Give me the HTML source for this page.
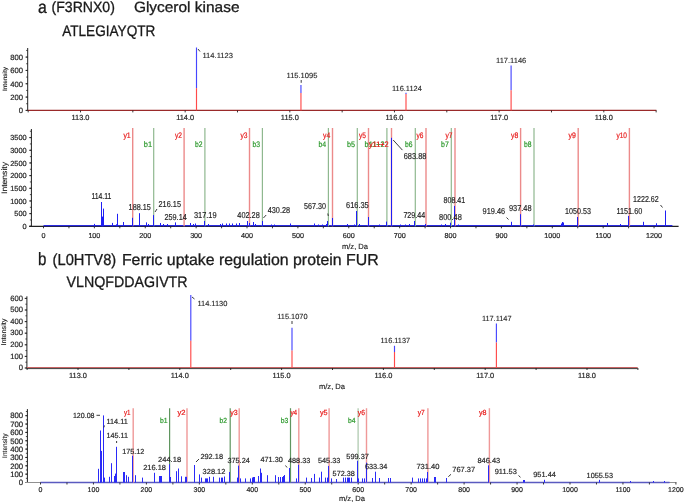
<!DOCTYPE html><html><head><meta charset="utf-8"><style>html,body{margin:0;padding:0;background:#fff;overflow:hidden}svg{display:block;filter:blur(0.3px)}text{font-family:"Liberation Sans",sans-serif;text-rendering:geometricPrecision}</style></head><body>
<svg width="685" height="502" viewBox="0 0 685 502">
<rect width="685" height="502" fill="#fff"/>
<text x="38.00" y="12.60" font-size="17.6" text-anchor="start" fill="#1a1a1a" textLength="8.80" lengthAdjust="spacingAndGlyphs" stroke="#1a1a1a" stroke-width="0.3">a</text>
<text x="51.50" y="12.15" font-size="14.8" text-anchor="start" fill="#1a1a1a" textLength="63.40" lengthAdjust="spacingAndGlyphs" stroke="#1a1a1a" stroke-width="0.3">(F3RNX0)</text>
<text x="133.90" y="12.15" font-size="14.8" text-anchor="start" fill="#1a1a1a" textLength="105.60" lengthAdjust="spacingAndGlyphs" stroke="#1a1a1a" stroke-width="0.3">Glycerol kinase</text>
<text x="62.20" y="36.10" font-size="15.2" text-anchor="start" fill="#1a1a1a" textLength="93.20" lengthAdjust="spacingAndGlyphs" stroke="#1a1a1a" stroke-width="0.3">ATLEGIAYQTR</text>
<text x="37.90" y="265.10" font-size="17.9" text-anchor="start" fill="#1a1a1a" textLength="8.40" lengthAdjust="spacingAndGlyphs" stroke="#1a1a1a" stroke-width="0.3">b</text>
<text x="52.60" y="265.40" font-size="15.9" text-anchor="start" fill="#1a1a1a" textLength="63.60" lengthAdjust="spacingAndGlyphs" stroke="#1a1a1a" stroke-width="0.3">(L0HTV8)</text>
<text x="121.90" y="265.40" font-size="15.9" text-anchor="start" fill="#1a1a1a" textLength="256.70" lengthAdjust="spacingAndGlyphs" stroke="#1a1a1a" stroke-width="0.3">Ferric uptake regulation protein FUR</text>
<text x="66.60" y="287.10" font-size="15.2" text-anchor="start" fill="#1a1a1a" textLength="121.00" lengthAdjust="spacingAndGlyphs" stroke="#1a1a1a" stroke-width="0.3">VLNQFDDAGIVTR</text>
<line x1="27.70" y1="48.00" x2="27.70" y2="110.90" stroke="#202020" stroke-width="1"/>
<line x1="25.50" y1="110.40" x2="27.70" y2="110.40" stroke="#202020" stroke-width="0.9"/>
<line x1="25.50" y1="97.08" x2="27.70" y2="97.08" stroke="#202020" stroke-width="0.9"/>
<line x1="25.50" y1="83.75" x2="27.70" y2="83.75" stroke="#202020" stroke-width="0.9"/>
<line x1="25.50" y1="70.43" x2="27.70" y2="70.43" stroke="#202020" stroke-width="0.9"/>
<line x1="25.50" y1="57.10" x2="27.70" y2="57.10" stroke="#202020" stroke-width="0.9"/>
<line x1="26.20" y1="110.40" x2="27.70" y2="110.40" stroke="#202020" stroke-width="0.8"/>
<line x1="26.20" y1="103.74" x2="27.70" y2="103.74" stroke="#202020" stroke-width="0.8"/>
<line x1="26.20" y1="97.08" x2="27.70" y2="97.08" stroke="#202020" stroke-width="0.8"/>
<line x1="26.20" y1="90.41" x2="27.70" y2="90.41" stroke="#202020" stroke-width="0.8"/>
<line x1="26.20" y1="83.75" x2="27.70" y2="83.75" stroke="#202020" stroke-width="0.8"/>
<line x1="26.20" y1="77.09" x2="27.70" y2="77.09" stroke="#202020" stroke-width="0.8"/>
<line x1="26.20" y1="70.43" x2="27.70" y2="70.43" stroke="#202020" stroke-width="0.8"/>
<line x1="26.20" y1="63.76" x2="27.70" y2="63.76" stroke="#202020" stroke-width="0.8"/>
<line x1="26.20" y1="57.10" x2="27.70" y2="57.10" stroke="#202020" stroke-width="0.8"/>
<line x1="26.20" y1="50.44" x2="27.70" y2="50.44" stroke="#202020" stroke-width="0.8"/>
<text x="23.00" y="113.16" font-size="7.7" text-anchor="end" fill="#262626" stroke="#262626" stroke-width="0.2">0</text>
<text x="23.00" y="99.83" font-size="7.7" text-anchor="end" fill="#262626" stroke="#262626" stroke-width="0.2">200</text>
<text x="23.00" y="86.51" font-size="7.7" text-anchor="end" fill="#262626" stroke="#262626" stroke-width="0.2">400</text>
<text x="23.00" y="73.18" font-size="7.7" text-anchor="end" fill="#262626" stroke="#262626" stroke-width="0.2">600</text>
<text x="23.00" y="59.86" font-size="7.7" text-anchor="end" fill="#262626" stroke="#262626" stroke-width="0.2">800</text>
<line x1="27.70" y1="110.40" x2="656.40" y2="110.40" stroke="#9a2a2a" stroke-width="1.3"/>
<line x1="28.17" y1="110.40" x2="28.17" y2="112.40" stroke="#202020" stroke-width="0.9"/>
<line x1="80.50" y1="110.40" x2="80.50" y2="112.40" stroke="#202020" stroke-width="0.9"/>
<line x1="132.83" y1="110.40" x2="132.83" y2="112.40" stroke="#202020" stroke-width="0.9"/>
<line x1="185.16" y1="110.40" x2="185.16" y2="112.40" stroke="#202020" stroke-width="0.9"/>
<line x1="237.49" y1="110.40" x2="237.49" y2="112.40" stroke="#202020" stroke-width="0.9"/>
<line x1="289.82" y1="110.40" x2="289.82" y2="112.40" stroke="#202020" stroke-width="0.9"/>
<line x1="342.15" y1="110.40" x2="342.15" y2="112.40" stroke="#202020" stroke-width="0.9"/>
<line x1="394.48" y1="110.40" x2="394.48" y2="112.40" stroke="#202020" stroke-width="0.9"/>
<line x1="446.81" y1="110.40" x2="446.81" y2="112.40" stroke="#202020" stroke-width="0.9"/>
<line x1="499.14" y1="110.40" x2="499.14" y2="112.40" stroke="#202020" stroke-width="0.9"/>
<line x1="551.47" y1="110.40" x2="551.47" y2="112.40" stroke="#202020" stroke-width="0.9"/>
<line x1="603.80" y1="110.40" x2="603.80" y2="112.40" stroke="#202020" stroke-width="0.9"/>
<line x1="656.13" y1="110.40" x2="656.13" y2="112.40" stroke="#202020" stroke-width="0.9"/>
<text x="80.50" y="119.50" font-size="7.4" text-anchor="middle" fill="#262626" stroke="#262626" stroke-width="0.2">113.0</text>
<text x="185.16" y="119.50" font-size="7.4" text-anchor="middle" fill="#262626" stroke="#262626" stroke-width="0.2">114.0</text>
<text x="289.82" y="119.50" font-size="7.4" text-anchor="middle" fill="#262626" stroke="#262626" stroke-width="0.2">115.0</text>
<text x="394.48" y="119.50" font-size="7.4" text-anchor="middle" fill="#262626" stroke="#262626" stroke-width="0.2">116.0</text>
<text x="499.14" y="119.50" font-size="7.4" text-anchor="middle" fill="#262626" stroke="#262626" stroke-width="0.2">117.0</text>
<text x="603.80" y="119.50" font-size="7.4" text-anchor="middle" fill="#262626" stroke="#262626" stroke-width="0.2">118.0</text>
<line x1="196.50" y1="47.50" x2="196.50" y2="88.10" stroke="#4646ff" stroke-width="1.15"/>
<line x1="196.50" y1="88.10" x2="196.50" y2="110.40" stroke="#ff4a4a" stroke-width="1.15"/>
<line x1="300.95" y1="85.00" x2="300.95" y2="93.10" stroke="#4646ff" stroke-width="1.15"/>
<line x1="300.95" y1="93.10" x2="300.95" y2="110.40" stroke="#ff4a4a" stroke-width="1.15"/>
<line x1="406.00" y1="92.70" x2="406.00" y2="94.00" stroke="#4646ff" stroke-width="1.15"/>
<line x1="406.00" y1="94.00" x2="406.00" y2="110.40" stroke="#ff4a4a" stroke-width="1.15"/>
<line x1="511.10" y1="65.50" x2="511.10" y2="90.30" stroke="#4646ff" stroke-width="1.15"/>
<line x1="511.10" y1="90.30" x2="511.10" y2="110.40" stroke="#ff4a4a" stroke-width="1.15"/>
<text x="202.40" y="57.65" font-size="7.4" text-anchor="start" fill="#262626" textLength="30.60" lengthAdjust="spacingAndGlyphs" stroke="#262626" stroke-width="0.12">114.1123</text>
<text x="286.50" y="78.15" font-size="7.4" text-anchor="start" fill="#262626" textLength="30.90" lengthAdjust="spacingAndGlyphs" stroke="#262626" stroke-width="0.12">115.1095</text>
<text x="392.00" y="90.95" font-size="7.4" text-anchor="start" fill="#262626" textLength="29.80" lengthAdjust="spacingAndGlyphs" stroke="#262626" stroke-width="0.12">116.1124</text>
<text x="496.00" y="63.15" font-size="7.4" text-anchor="start" fill="#262626" textLength="30.30" lengthAdjust="spacingAndGlyphs" stroke="#262626" stroke-width="0.12">117.1146</text>
<line x1="198.00" y1="49.00" x2="200.00" y2="51.50" stroke="#333" stroke-width="0.95"/>
<line x1="301.20" y1="80.00" x2="301.20" y2="82.80" stroke="#333" stroke-width="0.95"/>
<text x="0" y="0" font-size="6.2" text-anchor="middle" fill="#262626" textLength="24.0" lengthAdjust="spacingAndGlyphs" stroke="#262626" stroke-width="0.15" transform="translate(6.52,79.00) rotate(-90)">Intensity</text>
<line x1="26.90" y1="296.30" x2="26.90" y2="368.50" stroke="#202020" stroke-width="1"/>
<line x1="24.70" y1="368.00" x2="26.90" y2="368.00" stroke="#202020" stroke-width="0.9"/>
<line x1="24.70" y1="356.40" x2="26.90" y2="356.40" stroke="#202020" stroke-width="0.9"/>
<line x1="24.70" y1="344.80" x2="26.90" y2="344.80" stroke="#202020" stroke-width="0.9"/>
<line x1="24.70" y1="333.20" x2="26.90" y2="333.20" stroke="#202020" stroke-width="0.9"/>
<line x1="24.70" y1="321.60" x2="26.90" y2="321.60" stroke="#202020" stroke-width="0.9"/>
<line x1="24.70" y1="310.00" x2="26.90" y2="310.00" stroke="#202020" stroke-width="0.9"/>
<line x1="24.70" y1="298.40" x2="26.90" y2="298.40" stroke="#202020" stroke-width="0.9"/>
<line x1="25.40" y1="368.00" x2="26.90" y2="368.00" stroke="#202020" stroke-width="0.8"/>
<line x1="25.40" y1="362.20" x2="26.90" y2="362.20" stroke="#202020" stroke-width="0.8"/>
<line x1="25.40" y1="356.40" x2="26.90" y2="356.40" stroke="#202020" stroke-width="0.8"/>
<line x1="25.40" y1="350.60" x2="26.90" y2="350.60" stroke="#202020" stroke-width="0.8"/>
<line x1="25.40" y1="344.80" x2="26.90" y2="344.80" stroke="#202020" stroke-width="0.8"/>
<line x1="25.40" y1="339.00" x2="26.90" y2="339.00" stroke="#202020" stroke-width="0.8"/>
<line x1="25.40" y1="333.20" x2="26.90" y2="333.20" stroke="#202020" stroke-width="0.8"/>
<line x1="25.40" y1="327.40" x2="26.90" y2="327.40" stroke="#202020" stroke-width="0.8"/>
<line x1="25.40" y1="321.60" x2="26.90" y2="321.60" stroke="#202020" stroke-width="0.8"/>
<line x1="25.40" y1="315.80" x2="26.90" y2="315.80" stroke="#202020" stroke-width="0.8"/>
<line x1="25.40" y1="310.00" x2="26.90" y2="310.00" stroke="#202020" stroke-width="0.8"/>
<line x1="25.40" y1="304.20" x2="26.90" y2="304.20" stroke="#202020" stroke-width="0.8"/>
<line x1="25.40" y1="298.40" x2="26.90" y2="298.40" stroke="#202020" stroke-width="0.8"/>
<text x="23.00" y="370.22" font-size="7.6" text-anchor="end" fill="#262626" stroke="#262626" stroke-width="0.2">0</text>
<text x="23.00" y="358.62" font-size="7.6" text-anchor="end" fill="#262626" stroke="#262626" stroke-width="0.2">100</text>
<text x="23.00" y="347.02" font-size="7.6" text-anchor="end" fill="#262626" stroke="#262626" stroke-width="0.2">200</text>
<text x="23.00" y="335.42" font-size="7.6" text-anchor="end" fill="#262626" stroke="#262626" stroke-width="0.2">300</text>
<text x="23.00" y="323.82" font-size="7.6" text-anchor="end" fill="#262626" stroke="#262626" stroke-width="0.2">400</text>
<text x="23.00" y="312.22" font-size="7.6" text-anchor="end" fill="#262626" stroke="#262626" stroke-width="0.2">500</text>
<text x="23.00" y="300.62" font-size="7.6" text-anchor="end" fill="#262626" stroke="#262626" stroke-width="0.2">600</text>
<line x1="26.90" y1="368.60" x2="637.70" y2="368.60" stroke="#3a3a3a" stroke-width="1.0"/>
<line x1="26.90" y1="367.50" x2="637.70" y2="367.50" stroke="#c86464" stroke-width="1.1"/>
<line x1="27.10" y1="368.00" x2="27.10" y2="370.00" stroke="#202020" stroke-width="0.9"/>
<line x1="78.00" y1="368.00" x2="78.00" y2="370.00" stroke="#202020" stroke-width="0.9"/>
<line x1="128.90" y1="368.00" x2="128.90" y2="370.00" stroke="#202020" stroke-width="0.9"/>
<line x1="179.80" y1="368.00" x2="179.80" y2="370.00" stroke="#202020" stroke-width="0.9"/>
<line x1="230.70" y1="368.00" x2="230.70" y2="370.00" stroke="#202020" stroke-width="0.9"/>
<line x1="281.60" y1="368.00" x2="281.60" y2="370.00" stroke="#202020" stroke-width="0.9"/>
<line x1="332.50" y1="368.00" x2="332.50" y2="370.00" stroke="#202020" stroke-width="0.9"/>
<line x1="383.40" y1="368.00" x2="383.40" y2="370.00" stroke="#202020" stroke-width="0.9"/>
<line x1="434.30" y1="368.00" x2="434.30" y2="370.00" stroke="#202020" stroke-width="0.9"/>
<line x1="485.20" y1="368.00" x2="485.20" y2="370.00" stroke="#202020" stroke-width="0.9"/>
<line x1="536.10" y1="368.00" x2="536.10" y2="370.00" stroke="#202020" stroke-width="0.9"/>
<line x1="587.00" y1="368.00" x2="587.00" y2="370.00" stroke="#202020" stroke-width="0.9"/>
<line x1="637.90" y1="368.00" x2="637.90" y2="370.00" stroke="#202020" stroke-width="0.9"/>
<text x="78.00" y="378.30" font-size="7.4" text-anchor="middle" fill="#262626" stroke="#262626" stroke-width="0.2">113.0</text>
<text x="179.80" y="378.30" font-size="7.4" text-anchor="middle" fill="#262626" stroke="#262626" stroke-width="0.2">114.0</text>
<text x="281.60" y="378.30" font-size="7.4" text-anchor="middle" fill="#262626" stroke="#262626" stroke-width="0.2">115.0</text>
<text x="383.40" y="378.30" font-size="7.4" text-anchor="middle" fill="#262626" stroke="#262626" stroke-width="0.2">116.0</text>
<text x="485.20" y="378.30" font-size="7.4" text-anchor="middle" fill="#262626" stroke="#262626" stroke-width="0.2">117.0</text>
<text x="587.00" y="378.30" font-size="7.4" text-anchor="middle" fill="#262626" stroke="#262626" stroke-width="0.2">118.0</text>
<line x1="190.80" y1="294.90" x2="190.80" y2="340.80" stroke="#4646ff" stroke-width="1.15"/>
<line x1="190.80" y1="340.80" x2="190.80" y2="368.00" stroke="#ff4a4a" stroke-width="1.15"/>
<line x1="292.00" y1="327.70" x2="292.00" y2="350.50" stroke="#4646ff" stroke-width="1.15"/>
<line x1="292.00" y1="350.50" x2="292.00" y2="368.00" stroke="#ff4a4a" stroke-width="1.15"/>
<line x1="394.50" y1="345.80" x2="394.50" y2="352.00" stroke="#4646ff" stroke-width="1.15"/>
<line x1="394.50" y1="352.00" x2="394.50" y2="368.00" stroke="#ff4a4a" stroke-width="1.15"/>
<line x1="496.40" y1="323.40" x2="496.40" y2="342.50" stroke="#4646ff" stroke-width="1.15"/>
<line x1="496.40" y1="342.50" x2="496.40" y2="368.00" stroke="#ff4a4a" stroke-width="1.15"/>
<text x="197.40" y="306.25" font-size="7.4" text-anchor="start" fill="#262626" textLength="30.00" lengthAdjust="spacingAndGlyphs" stroke="#262626" stroke-width="0.12">114.1130</text>
<text x="277.30" y="318.75" font-size="7.4" text-anchor="start" fill="#262626" textLength="30.20" lengthAdjust="spacingAndGlyphs" stroke="#262626" stroke-width="0.12">115.1070</text>
<text x="380.50" y="343.05" font-size="7.4" text-anchor="start" fill="#262626" textLength="29.60" lengthAdjust="spacingAndGlyphs" stroke="#262626" stroke-width="0.12">116.1137</text>
<text x="481.90" y="320.85" font-size="7.4" text-anchor="start" fill="#262626" textLength="29.60" lengthAdjust="spacingAndGlyphs" stroke="#262626" stroke-width="0.12">117.1147</text>
<line x1="192.00" y1="297.00" x2="194.50" y2="299.00" stroke="#333" stroke-width="0.95"/>
<line x1="292.00" y1="321.00" x2="292.00" y2="324.00" stroke="#333" stroke-width="0.95"/>
<text x="0" y="0" font-size="6.9" text-anchor="middle" fill="#262626" textLength="27.0" lengthAdjust="spacingAndGlyphs" stroke="#262626" stroke-width="0.15" transform="translate(6.07,332.00) rotate(-90)">Intensity</text>
<text x="332.00" y="388.50" font-size="7.6" text-anchor="middle" fill="#262626" stroke="#262626" stroke-width="0.15">m/z, Da</text>
<line x1="31.40" y1="129.00" x2="31.40" y2="226.80" stroke="#202020" stroke-width="1"/>
<line x1="29.20" y1="226.30" x2="31.40" y2="226.30" stroke="#202020" stroke-width="0.9"/>
<line x1="29.20" y1="213.63" x2="31.40" y2="213.63" stroke="#202020" stroke-width="0.9"/>
<line x1="29.20" y1="200.96" x2="31.40" y2="200.96" stroke="#202020" stroke-width="0.9"/>
<line x1="29.20" y1="188.29" x2="31.40" y2="188.29" stroke="#202020" stroke-width="0.9"/>
<line x1="29.20" y1="175.61" x2="31.40" y2="175.61" stroke="#202020" stroke-width="0.9"/>
<line x1="29.20" y1="162.94" x2="31.40" y2="162.94" stroke="#202020" stroke-width="0.9"/>
<line x1="29.20" y1="150.27" x2="31.40" y2="150.27" stroke="#202020" stroke-width="0.9"/>
<line x1="29.20" y1="137.60" x2="31.40" y2="137.60" stroke="#202020" stroke-width="0.9"/>
<line x1="29.90" y1="226.30" x2="31.40" y2="226.30" stroke="#202020" stroke-width="0.8"/>
<line x1="29.90" y1="219.96" x2="31.40" y2="219.96" stroke="#202020" stroke-width="0.8"/>
<line x1="29.90" y1="213.63" x2="31.40" y2="213.63" stroke="#202020" stroke-width="0.8"/>
<line x1="29.90" y1="207.29" x2="31.40" y2="207.29" stroke="#202020" stroke-width="0.8"/>
<line x1="29.90" y1="200.96" x2="31.40" y2="200.96" stroke="#202020" stroke-width="0.8"/>
<line x1="29.90" y1="194.62" x2="31.40" y2="194.62" stroke="#202020" stroke-width="0.8"/>
<line x1="29.90" y1="188.29" x2="31.40" y2="188.29" stroke="#202020" stroke-width="0.8"/>
<line x1="29.90" y1="181.95" x2="31.40" y2="181.95" stroke="#202020" stroke-width="0.8"/>
<line x1="29.90" y1="175.61" x2="31.40" y2="175.61" stroke="#202020" stroke-width="0.8"/>
<line x1="29.90" y1="169.28" x2="31.40" y2="169.28" stroke="#202020" stroke-width="0.8"/>
<line x1="29.90" y1="162.94" x2="31.40" y2="162.94" stroke="#202020" stroke-width="0.8"/>
<line x1="29.90" y1="156.61" x2="31.40" y2="156.61" stroke="#202020" stroke-width="0.8"/>
<line x1="29.90" y1="150.27" x2="31.40" y2="150.27" stroke="#202020" stroke-width="0.8"/>
<line x1="29.90" y1="143.94" x2="31.40" y2="143.94" stroke="#202020" stroke-width="0.8"/>
<line x1="29.90" y1="137.60" x2="31.40" y2="137.60" stroke="#202020" stroke-width="0.8"/>
<line x1="29.90" y1="131.26" x2="31.40" y2="131.26" stroke="#202020" stroke-width="0.8"/>
<text x="26.70" y="228.95" font-size="7.4" text-anchor="end" fill="#262626" stroke="#262626" stroke-width="0.2">0</text>
<text x="26.70" y="216.28" font-size="7.4" text-anchor="end" fill="#262626" stroke="#262626" stroke-width="0.2">500</text>
<text x="26.70" y="203.61" font-size="7.4" text-anchor="end" fill="#262626" stroke="#262626" stroke-width="0.2">1000</text>
<text x="26.70" y="190.93" font-size="7.4" text-anchor="end" fill="#262626" stroke="#262626" stroke-width="0.2">1500</text>
<text x="26.70" y="178.26" font-size="7.4" text-anchor="end" fill="#262626" stroke="#262626" stroke-width="0.2">2000</text>
<text x="26.70" y="165.59" font-size="7.4" text-anchor="end" fill="#262626" stroke="#262626" stroke-width="0.2">2500</text>
<text x="26.70" y="152.92" font-size="7.4" text-anchor="end" fill="#262626" stroke="#262626" stroke-width="0.2">3000</text>
<text x="26.70" y="140.25" font-size="7.4" text-anchor="end" fill="#262626" stroke="#262626" stroke-width="0.2">3500</text>
<line x1="29.20" y1="226.30" x2="678.60" y2="226.30" stroke="#202020" stroke-width="1.2"/>
<line x1="43.50" y1="225.70" x2="672.40" y2="225.70" stroke="#2a2ae0" stroke-width="1.3"/>
<line x1="43.50" y1="226.30" x2="43.50" y2="228.30" stroke="#202020" stroke-width="0.9"/>
<line x1="68.94" y1="226.30" x2="68.94" y2="228.30" stroke="#202020" stroke-width="0.9"/>
<line x1="94.38" y1="226.30" x2="94.38" y2="228.30" stroke="#202020" stroke-width="0.9"/>
<line x1="119.82" y1="226.30" x2="119.82" y2="228.30" stroke="#202020" stroke-width="0.9"/>
<line x1="145.26" y1="226.30" x2="145.26" y2="228.30" stroke="#202020" stroke-width="0.9"/>
<line x1="170.70" y1="226.30" x2="170.70" y2="228.30" stroke="#202020" stroke-width="0.9"/>
<line x1="196.14" y1="226.30" x2="196.14" y2="228.30" stroke="#202020" stroke-width="0.9"/>
<line x1="221.58" y1="226.30" x2="221.58" y2="228.30" stroke="#202020" stroke-width="0.9"/>
<line x1="247.02" y1="226.30" x2="247.02" y2="228.30" stroke="#202020" stroke-width="0.9"/>
<line x1="272.46" y1="226.30" x2="272.46" y2="228.30" stroke="#202020" stroke-width="0.9"/>
<line x1="297.90" y1="226.30" x2="297.90" y2="228.30" stroke="#202020" stroke-width="0.9"/>
<line x1="323.34" y1="226.30" x2="323.34" y2="228.30" stroke="#202020" stroke-width="0.9"/>
<line x1="348.78" y1="226.30" x2="348.78" y2="228.30" stroke="#202020" stroke-width="0.9"/>
<line x1="374.22" y1="226.30" x2="374.22" y2="228.30" stroke="#202020" stroke-width="0.9"/>
<line x1="399.66" y1="226.30" x2="399.66" y2="228.30" stroke="#202020" stroke-width="0.9"/>
<line x1="425.10" y1="226.30" x2="425.10" y2="228.30" stroke="#202020" stroke-width="0.9"/>
<line x1="450.54" y1="226.30" x2="450.54" y2="228.30" stroke="#202020" stroke-width="0.9"/>
<line x1="475.98" y1="226.30" x2="475.98" y2="228.30" stroke="#202020" stroke-width="0.9"/>
<line x1="501.42" y1="226.30" x2="501.42" y2="228.30" stroke="#202020" stroke-width="0.9"/>
<line x1="526.86" y1="226.30" x2="526.86" y2="228.30" stroke="#202020" stroke-width="0.9"/>
<line x1="552.30" y1="226.30" x2="552.30" y2="228.30" stroke="#202020" stroke-width="0.9"/>
<line x1="577.74" y1="226.30" x2="577.74" y2="228.30" stroke="#202020" stroke-width="0.9"/>
<line x1="603.18" y1="226.30" x2="603.18" y2="228.30" stroke="#202020" stroke-width="0.9"/>
<line x1="628.62" y1="226.30" x2="628.62" y2="228.30" stroke="#202020" stroke-width="0.9"/>
<line x1="654.06" y1="226.30" x2="654.06" y2="228.30" stroke="#202020" stroke-width="0.9"/>
<text x="43.50" y="238.00" font-size="7.2" text-anchor="middle" fill="#262626" stroke="#262626" stroke-width="0.2">0</text>
<text x="94.38" y="238.00" font-size="7.2" text-anchor="middle" fill="#262626" stroke="#262626" stroke-width="0.2">100</text>
<text x="145.26" y="238.00" font-size="7.2" text-anchor="middle" fill="#262626" stroke="#262626" stroke-width="0.2">200</text>
<text x="196.14" y="238.00" font-size="7.2" text-anchor="middle" fill="#262626" stroke="#262626" stroke-width="0.2">300</text>
<text x="247.02" y="238.00" font-size="7.2" text-anchor="middle" fill="#262626" stroke="#262626" stroke-width="0.2">400</text>
<text x="297.90" y="238.00" font-size="7.2" text-anchor="middle" fill="#262626" stroke="#262626" stroke-width="0.2">500</text>
<text x="348.78" y="238.00" font-size="7.2" text-anchor="middle" fill="#262626" stroke="#262626" stroke-width="0.2">600</text>
<text x="399.66" y="238.00" font-size="7.2" text-anchor="middle" fill="#262626" stroke="#262626" stroke-width="0.2">700</text>
<text x="450.54" y="238.00" font-size="7.2" text-anchor="middle" fill="#262626" stroke="#262626" stroke-width="0.2">800</text>
<text x="501.42" y="238.00" font-size="7.2" text-anchor="middle" fill="#262626" stroke="#262626" stroke-width="0.2">900</text>
<text x="552.30" y="238.00" font-size="7.2" text-anchor="middle" fill="#262626" stroke="#262626" stroke-width="0.2">1000</text>
<text x="603.18" y="238.00" font-size="7.2" text-anchor="middle" fill="#262626" stroke="#262626" stroke-width="0.2">1100</text>
<text x="654.06" y="238.00" font-size="7.2" text-anchor="middle" fill="#262626" stroke="#262626" stroke-width="0.2">1200</text>
<line x1="132.70" y1="128.00" x2="132.70" y2="226.30" stroke="#ec8a8a" stroke-width="1.4"/>
<line x1="153.70" y1="128.00" x2="153.70" y2="226.30" stroke="#8fb88f" stroke-width="1.2"/>
<line x1="184.10" y1="128.00" x2="184.10" y2="226.30" stroke="#ec8a8a" stroke-width="1.4"/>
<line x1="204.90" y1="128.00" x2="204.90" y2="226.30" stroke="#8fb88f" stroke-width="1.2"/>
<line x1="249.50" y1="128.00" x2="249.50" y2="226.30" stroke="#ec8a8a" stroke-width="1.4"/>
<line x1="262.40" y1="128.00" x2="262.40" y2="226.30" stroke="#8fb88f" stroke-width="1.2"/>
<line x1="332.50" y1="128.00" x2="332.50" y2="226.30" stroke="#ec8a8a" stroke-width="1.4"/>
<line x1="328.40" y1="128.00" x2="328.40" y2="226.30" stroke="#8fb88f" stroke-width="1.2"/>
<line x1="368.50" y1="128.00" x2="368.50" y2="226.30" stroke="#ec8a8a" stroke-width="1.4"/>
<line x1="357.30" y1="128.00" x2="357.30" y2="226.30" stroke="#8fb88f" stroke-width="1.2"/>
<line x1="391.50" y1="128.00" x2="391.50" y2="226.30" stroke="#ec8a8a" stroke-width="1.4"/>
<line x1="386.90" y1="128.00" x2="386.90" y2="226.30" stroke="#8fb88f" stroke-width="1.2"/>
<line x1="426.00" y1="128.00" x2="426.00" y2="226.30" stroke="#ec8a8a" stroke-width="1.4"/>
<line x1="415.30" y1="128.00" x2="415.30" y2="226.30" stroke="#8fb88f" stroke-width="1.2"/>
<line x1="455.00" y1="128.00" x2="455.00" y2="226.30" stroke="#ec8a8a" stroke-width="1.4"/>
<line x1="451.30" y1="128.00" x2="451.30" y2="226.30" stroke="#8fb88f" stroke-width="1.2"/>
<line x1="520.60" y1="128.00" x2="520.60" y2="226.30" stroke="#ec8a8a" stroke-width="1.4"/>
<line x1="534.00" y1="128.00" x2="534.00" y2="226.30" stroke="#8fb88f" stroke-width="1.2"/>
<line x1="578.20" y1="128.00" x2="578.20" y2="226.30" stroke="#ec8a8a" stroke-width="1.4"/>
<line x1="629.40" y1="128.00" x2="629.40" y2="226.30" stroke="#ec8a8a" stroke-width="1.4"/>
<text x="143.80" y="147.06" font-size="8.0" text-anchor="start" fill="#2e9a2e" textLength="8.30" lengthAdjust="spacingAndGlyphs" stroke="#2e9a2e" stroke-width="0.22">b1</text>
<text x="195.00" y="147.06" font-size="8.0" text-anchor="start" fill="#2e9a2e" textLength="7.50" lengthAdjust="spacingAndGlyphs" stroke="#2e9a2e" stroke-width="0.22">b2</text>
<text x="252.50" y="147.06" font-size="8.0" text-anchor="start" fill="#2e9a2e" textLength="7.50" lengthAdjust="spacingAndGlyphs" stroke="#2e9a2e" stroke-width="0.22">b3</text>
<text x="318.50" y="147.06" font-size="8.0" text-anchor="start" fill="#2e9a2e" textLength="7.70" lengthAdjust="spacingAndGlyphs" stroke="#2e9a2e" stroke-width="0.22">b4</text>
<text x="347.00" y="147.06" font-size="8.0" text-anchor="start" fill="#2e9a2e" textLength="8.00" lengthAdjust="spacingAndGlyphs" stroke="#2e9a2e" stroke-width="0.22">b5</text>
<text x="364.60" y="147.06" font-size="8.0" text-anchor="start" fill="#2e9a2e" textLength="19.90" lengthAdjust="spacingAndGlyphs" stroke="#2e9a2e" stroke-width="0.22">b11+2</text>
<text x="405.00" y="147.06" font-size="8.0" text-anchor="start" fill="#2e9a2e" textLength="7.50" lengthAdjust="spacingAndGlyphs" stroke="#2e9a2e" stroke-width="0.22">b6</text>
<text x="441.00" y="147.06" font-size="8.0" text-anchor="start" fill="#2e9a2e" textLength="7.80" lengthAdjust="spacingAndGlyphs" stroke="#2e9a2e" stroke-width="0.22">b7</text>
<text x="524.00" y="147.06" font-size="8.0" text-anchor="start" fill="#2e9a2e" textLength="7.50" lengthAdjust="spacingAndGlyphs" stroke="#2e9a2e" stroke-width="0.22">b8</text>
<text x="123.40" y="138.26" font-size="8.0" text-anchor="start" fill="#e82020" textLength="7.30" lengthAdjust="spacingAndGlyphs" stroke="#e82020" stroke-width="0.22">y1</text>
<text x="175.00" y="138.26" font-size="8.0" text-anchor="start" fill="#e82020" textLength="7.00" lengthAdjust="spacingAndGlyphs" stroke="#e82020" stroke-width="0.22">y2</text>
<text x="240.50" y="138.26" font-size="8.0" text-anchor="start" fill="#e82020" textLength="7.00" lengthAdjust="spacingAndGlyphs" stroke="#e82020" stroke-width="0.22">y3</text>
<text x="323.00" y="138.26" font-size="8.0" text-anchor="start" fill="#e82020" textLength="7.20" lengthAdjust="spacingAndGlyphs" stroke="#e82020" stroke-width="0.22">y4</text>
<text x="359.00" y="138.26" font-size="8.0" text-anchor="start" fill="#e82020" textLength="7.00" lengthAdjust="spacingAndGlyphs" stroke="#e82020" stroke-width="0.22">y5</text>
<text x="369.00" y="147.06" font-size="8.0" text-anchor="start" fill="#e82020" textLength="19.70" lengthAdjust="spacingAndGlyphs" stroke="#e82020" stroke-width="0.22">y11+2</text>
<text x="416.50" y="138.26" font-size="8.0" text-anchor="start" fill="#e82020" textLength="6.90" lengthAdjust="spacingAndGlyphs" stroke="#e82020" stroke-width="0.22">y6</text>
<text x="445.50" y="138.26" font-size="8.0" text-anchor="start" fill="#e82020" textLength="7.00" lengthAdjust="spacingAndGlyphs" stroke="#e82020" stroke-width="0.22">y7</text>
<text x="511.00" y="138.26" font-size="8.0" text-anchor="start" fill="#e82020" textLength="7.20" lengthAdjust="spacingAndGlyphs" stroke="#e82020" stroke-width="0.22">y8</text>
<text x="568.50" y="138.26" font-size="8.0" text-anchor="start" fill="#e82020" textLength="7.30" lengthAdjust="spacingAndGlyphs" stroke="#e82020" stroke-width="0.22">y9</text>
<text x="616.50" y="138.26" font-size="8.0" text-anchor="start" fill="#e82020" textLength="10.50" lengthAdjust="spacingAndGlyphs" stroke="#e82020" stroke-width="0.22">y10</text>
<line x1="94.50" y1="223.90" x2="94.50" y2="226.30" stroke="#1f1ff5" stroke-width="1.0"/>
<line x1="101.50" y1="202.00" x2="101.50" y2="226.30" stroke="#1f1ff5" stroke-width="1.0"/>
<line x1="102.50" y1="216.60" x2="102.50" y2="226.30" stroke="#1f1ff5" stroke-width="1.0"/>
<line x1="102.50" y1="218.00" x2="102.50" y2="226.30" stroke="#1f1ff5" stroke-width="1.0"/>
<line x1="103.50" y1="208.60" x2="103.50" y2="226.30" stroke="#1f1ff5" stroke-width="1.0"/>
<line x1="112.50" y1="222.90" x2="112.50" y2="226.30" stroke="#1f1ff5" stroke-width="1.0"/>
<line x1="116.50" y1="224.30" x2="116.50" y2="226.30" stroke="#1f1ff5" stroke-width="1.0"/>
<line x1="117.50" y1="213.80" x2="117.50" y2="226.30" stroke="#1f1ff5" stroke-width="1.0"/>
<line x1="123.50" y1="222.00" x2="123.50" y2="226.30" stroke="#1f1ff5" stroke-width="1.0"/>
<line x1="132.50" y1="217.80" x2="132.50" y2="226.30" stroke="#1f1ff5" stroke-width="1.0"/>
<line x1="139.50" y1="213.20" x2="139.50" y2="226.30" stroke="#1f1ff5" stroke-width="1.0"/>
<line x1="146.50" y1="222.40" x2="146.50" y2="226.30" stroke="#1f1ff5" stroke-width="1.0"/>
<line x1="148.50" y1="224.00" x2="148.50" y2="226.30" stroke="#1f1ff5" stroke-width="1.0"/>
<line x1="153.50" y1="215.10" x2="153.50" y2="226.30" stroke="#1f1ff5" stroke-width="1.0"/>
<line x1="160.50" y1="223.00" x2="160.50" y2="226.30" stroke="#1f1ff5" stroke-width="1.0"/>
<line x1="163.50" y1="224.00" x2="163.50" y2="226.30" stroke="#1f1ff5" stroke-width="1.0"/>
<line x1="167.50" y1="224.00" x2="167.50" y2="226.30" stroke="#1f1ff5" stroke-width="1.0"/>
<line x1="175.50" y1="222.40" x2="175.50" y2="226.30" stroke="#1f1ff5" stroke-width="1.0"/>
<line x1="190.50" y1="223.00" x2="190.50" y2="226.30" stroke="#1f1ff5" stroke-width="1.0"/>
<line x1="193.50" y1="224.00" x2="193.50" y2="226.30" stroke="#1f1ff5" stroke-width="1.0"/>
<line x1="195.50" y1="223.50" x2="195.50" y2="226.30" stroke="#1f1ff5" stroke-width="1.0"/>
<line x1="204.50" y1="221.00" x2="204.50" y2="226.30" stroke="#1f1ff5" stroke-width="1.0"/>
<line x1="208.50" y1="224.00" x2="208.50" y2="226.30" stroke="#1f1ff5" stroke-width="1.0"/>
<line x1="220.50" y1="224.00" x2="220.50" y2="226.30" stroke="#1f1ff5" stroke-width="1.0"/>
<line x1="222.50" y1="223.50" x2="222.50" y2="226.30" stroke="#1f1ff5" stroke-width="1.0"/>
<line x1="226.50" y1="223.50" x2="226.50" y2="226.30" stroke="#1f1ff5" stroke-width="1.0"/>
<line x1="229.50" y1="223.50" x2="229.50" y2="226.30" stroke="#1f1ff5" stroke-width="1.0"/>
<line x1="232.50" y1="223.50" x2="232.50" y2="226.30" stroke="#1f1ff5" stroke-width="1.0"/>
<line x1="236.50" y1="223.50" x2="236.50" y2="226.30" stroke="#1f1ff5" stroke-width="1.0"/>
<line x1="239.50" y1="223.00" x2="239.50" y2="226.30" stroke="#1f1ff5" stroke-width="1.0"/>
<line x1="247.50" y1="221.00" x2="247.50" y2="226.30" stroke="#1f1ff5" stroke-width="1.0"/>
<line x1="249.50" y1="223.00" x2="249.50" y2="226.30" stroke="#1f1ff5" stroke-width="1.0"/>
<line x1="253.50" y1="222.00" x2="253.50" y2="226.30" stroke="#1f1ff5" stroke-width="1.0"/>
<line x1="255.50" y1="224.00" x2="255.50" y2="226.30" stroke="#1f1ff5" stroke-width="1.0"/>
<line x1="262.50" y1="221.00" x2="262.50" y2="226.30" stroke="#1f1ff5" stroke-width="1.0"/>
<line x1="271.50" y1="224.50" x2="271.50" y2="226.30" stroke="#1f1ff5" stroke-width="1.0"/>
<line x1="274.50" y1="224.50" x2="274.50" y2="226.30" stroke="#1f1ff5" stroke-width="1.0"/>
<line x1="290.50" y1="223.50" x2="290.50" y2="226.30" stroke="#1f1ff5" stroke-width="1.0"/>
<line x1="314.50" y1="223.50" x2="314.50" y2="226.30" stroke="#1f1ff5" stroke-width="1.0"/>
<line x1="318.50" y1="224.50" x2="318.50" y2="226.30" stroke="#1f1ff5" stroke-width="1.0"/>
<line x1="322.50" y1="224.50" x2="322.50" y2="226.30" stroke="#1f1ff5" stroke-width="1.0"/>
<line x1="326.50" y1="224.00" x2="326.50" y2="226.30" stroke="#1f1ff5" stroke-width="1.0"/>
<line x1="327.50" y1="221.00" x2="327.50" y2="226.30" stroke="#1f1ff5" stroke-width="1.0"/>
<line x1="332.50" y1="218.00" x2="332.50" y2="226.30" stroke="#1f1ff5" stroke-width="1.0"/>
<line x1="347.50" y1="224.00" x2="347.50" y2="226.30" stroke="#1f1ff5" stroke-width="1.0"/>
<line x1="354.50" y1="224.50" x2="354.50" y2="226.30" stroke="#1f1ff5" stroke-width="1.0"/>
<line x1="356.50" y1="211.00" x2="356.50" y2="226.30" stroke="#1f1ff5" stroke-width="1.0"/>
<line x1="359.50" y1="224.00" x2="359.50" y2="226.30" stroke="#1f1ff5" stroke-width="1.0"/>
<line x1="368.50" y1="217.00" x2="368.50" y2="226.30" stroke="#1f1ff5" stroke-width="1.0"/>
<line x1="379.50" y1="224.50" x2="379.50" y2="226.30" stroke="#1f1ff5" stroke-width="1.0"/>
<line x1="386.50" y1="221.60" x2="386.50" y2="226.30" stroke="#1f1ff5" stroke-width="1.0"/>
<line x1="391.50" y1="137.80" x2="391.50" y2="226.30" stroke="#1f1ff5" stroke-width="1.0"/>
<line x1="400.50" y1="224.50" x2="400.50" y2="226.30" stroke="#1f1ff5" stroke-width="1.0"/>
<line x1="405.50" y1="224.50" x2="405.50" y2="226.30" stroke="#1f1ff5" stroke-width="1.0"/>
<line x1="409.50" y1="224.00" x2="409.50" y2="226.30" stroke="#1f1ff5" stroke-width="1.0"/>
<line x1="414.50" y1="221.00" x2="414.50" y2="226.30" stroke="#1f1ff5" stroke-width="1.0"/>
<line x1="425.50" y1="224.00" x2="425.50" y2="226.30" stroke="#1f1ff5" stroke-width="1.0"/>
<line x1="441.50" y1="224.50" x2="441.50" y2="226.30" stroke="#1f1ff5" stroke-width="1.0"/>
<line x1="445.50" y1="224.00" x2="445.50" y2="226.30" stroke="#1f1ff5" stroke-width="1.0"/>
<line x1="450.50" y1="222.70" x2="450.50" y2="226.30" stroke="#1f1ff5" stroke-width="1.0"/>
<line x1="454.50" y1="205.90" x2="454.50" y2="226.30" stroke="#1f1ff5" stroke-width="1.0"/>
<line x1="458.50" y1="224.50" x2="458.50" y2="226.30" stroke="#1f1ff5" stroke-width="1.0"/>
<line x1="511.50" y1="221.80" x2="511.50" y2="226.30" stroke="#1f1ff5" stroke-width="1.0"/>
<line x1="520.50" y1="214.20" x2="520.50" y2="226.30" stroke="#1f1ff5" stroke-width="1.0"/>
<line x1="533.50" y1="224.50" x2="533.50" y2="226.30" stroke="#1f1ff5" stroke-width="1.0"/>
<line x1="561.50" y1="223.50" x2="561.50" y2="226.30" stroke="#1f1ff5" stroke-width="1.0"/>
<line x1="562.50" y1="222.00" x2="562.50" y2="226.30" stroke="#1f1ff5" stroke-width="1.0"/>
<line x1="563.50" y1="222.50" x2="563.50" y2="226.30" stroke="#1f1ff5" stroke-width="1.0"/>
<line x1="577.50" y1="217.00" x2="577.50" y2="226.30" stroke="#1f1ff5" stroke-width="1.0"/>
<line x1="607.50" y1="223.00" x2="607.50" y2="226.30" stroke="#1f1ff5" stroke-width="1.0"/>
<line x1="620.50" y1="224.00" x2="620.50" y2="226.30" stroke="#1f1ff5" stroke-width="1.0"/>
<line x1="628.50" y1="215.90" x2="628.50" y2="226.30" stroke="#1f1ff5" stroke-width="1.0"/>
<line x1="643.50" y1="221.80" x2="643.50" y2="226.30" stroke="#1f1ff5" stroke-width="1.0"/>
<line x1="656.50" y1="223.30" x2="656.50" y2="226.30" stroke="#1f1ff5" stroke-width="1.0"/>
<line x1="665.50" y1="210.50" x2="665.50" y2="226.30" stroke="#1f1ff5" stroke-width="1.0"/>
<text x="91.40" y="199.28" font-size="8.6" text-anchor="start" fill="#262626" textLength="20.00" lengthAdjust="spacingAndGlyphs" stroke="#262626" stroke-width="0.18">114.11</text>
<text x="128.60" y="209.88" font-size="8.6" text-anchor="start" fill="#262626" textLength="22.20" lengthAdjust="spacingAndGlyphs" stroke="#262626" stroke-width="0.18">188.15</text>
<text x="158.50" y="207.28" font-size="8.6" text-anchor="start" fill="#262626" textLength="22.50" lengthAdjust="spacingAndGlyphs" stroke="#262626" stroke-width="0.18">216.15</text>
<text x="164.40" y="220.28" font-size="8.6" text-anchor="start" fill="#262626" textLength="22.40" lengthAdjust="spacingAndGlyphs" stroke="#262626" stroke-width="0.18">259.14</text>
<text x="193.90" y="217.88" font-size="8.6" text-anchor="start" fill="#262626" textLength="22.70" lengthAdjust="spacingAndGlyphs" stroke="#262626" stroke-width="0.18">317.19</text>
<text x="237.30" y="217.88" font-size="8.6" text-anchor="start" fill="#262626" textLength="22.50" lengthAdjust="spacingAndGlyphs" stroke="#262626" stroke-width="0.18">402.28</text>
<text x="267.70" y="212.78" font-size="8.6" text-anchor="start" fill="#262626" textLength="22.40" lengthAdjust="spacingAndGlyphs" stroke="#262626" stroke-width="0.18">430.28</text>
<text x="304.00" y="209.38" font-size="8.6" text-anchor="start" fill="#262626" textLength="21.90" lengthAdjust="spacingAndGlyphs" stroke="#262626" stroke-width="0.18">567.30</text>
<text x="346.00" y="207.88" font-size="8.6" text-anchor="start" fill="#262626" textLength="22.75" lengthAdjust="spacingAndGlyphs" stroke="#262626" stroke-width="0.18">616.35</text>
<text x="403.70" y="158.68" font-size="8.6" text-anchor="start" fill="#262626" textLength="22.70" lengthAdjust="spacingAndGlyphs" stroke="#262626" stroke-width="0.18">683.88</text>
<text x="403.40" y="218.38" font-size="8.6" text-anchor="start" fill="#262626" textLength="21.80" lengthAdjust="spacingAndGlyphs" stroke="#262626" stroke-width="0.18">729.44</text>
<text x="443.60" y="202.88" font-size="8.6" text-anchor="start" fill="#262626" textLength="21.60" lengthAdjust="spacingAndGlyphs" stroke="#262626" stroke-width="0.18">808.41</text>
<text x="439.10" y="219.88" font-size="8.6" text-anchor="start" fill="#262626" textLength="22.70" lengthAdjust="spacingAndGlyphs" stroke="#262626" stroke-width="0.18">800.48</text>
<text x="482.60" y="214.18" font-size="8.6" text-anchor="start" fill="#262626" textLength="22.60" lengthAdjust="spacingAndGlyphs" stroke="#262626" stroke-width="0.18">919.46</text>
<text x="508.90" y="211.08" font-size="8.6" text-anchor="start" fill="#262626" textLength="22.70" lengthAdjust="spacingAndGlyphs" stroke="#262626" stroke-width="0.18">937.48</text>
<text x="565.10" y="214.18" font-size="8.6" text-anchor="start" fill="#262626" textLength="25.80" lengthAdjust="spacingAndGlyphs" stroke="#262626" stroke-width="0.18">1050.53</text>
<text x="616.40" y="213.58" font-size="8.6" text-anchor="start" fill="#262626" textLength="25.90" lengthAdjust="spacingAndGlyphs" stroke="#262626" stroke-width="0.18">1151.60</text>
<text x="633.00" y="202.18" font-size="8.6" text-anchor="start" fill="#262626" textLength="25.75" lengthAdjust="spacingAndGlyphs" stroke="#262626" stroke-width="0.18">1222.62</text>
<line x1="155.00" y1="212.00" x2="157.00" y2="209.00" stroke="#333" stroke-width="0.95"/>
<line x1="263.40" y1="218.00" x2="266.20" y2="215.00" stroke="#333" stroke-width="0.95"/>
<line x1="327.80" y1="213.50" x2="328.30" y2="216.00" stroke="#333" stroke-width="0.95"/>
<line x1="393.20" y1="140.00" x2="402.40" y2="150.10" stroke="#333" stroke-width="0.95"/>
<line x1="506.50" y1="217.50" x2="508.50" y2="219.50" stroke="#333" stroke-width="0.95"/>
<line x1="660.50" y1="205.00" x2="662.50" y2="207.50" stroke="#333" stroke-width="0.95"/>
<text x="0" y="0" font-size="7.8" text-anchor="middle" fill="#262626" textLength="32.0" lengthAdjust="spacingAndGlyphs" stroke="#262626" stroke-width="0.15" transform="translate(7.39,178.00) rotate(-90)">Intensity</text>
<text x="355.00" y="249.00" font-size="7.6" text-anchor="middle" fill="#262626" stroke="#262626" stroke-width="0.15">m/z, Da</text>
<line x1="27.40" y1="409.10" x2="27.40" y2="483.00" stroke="#202020" stroke-width="1"/>
<line x1="25.20" y1="482.50" x2="27.40" y2="482.50" stroke="#202020" stroke-width="0.9"/>
<line x1="25.20" y1="474.15" x2="27.40" y2="474.15" stroke="#202020" stroke-width="0.9"/>
<line x1="25.20" y1="465.80" x2="27.40" y2="465.80" stroke="#202020" stroke-width="0.9"/>
<line x1="25.20" y1="457.45" x2="27.40" y2="457.45" stroke="#202020" stroke-width="0.9"/>
<line x1="25.20" y1="449.10" x2="27.40" y2="449.10" stroke="#202020" stroke-width="0.9"/>
<line x1="25.20" y1="440.75" x2="27.40" y2="440.75" stroke="#202020" stroke-width="0.9"/>
<line x1="25.20" y1="432.40" x2="27.40" y2="432.40" stroke="#202020" stroke-width="0.9"/>
<line x1="25.20" y1="424.05" x2="27.40" y2="424.05" stroke="#202020" stroke-width="0.9"/>
<line x1="25.20" y1="415.70" x2="27.40" y2="415.70" stroke="#202020" stroke-width="0.9"/>
<line x1="25.90" y1="482.50" x2="27.40" y2="482.50" stroke="#202020" stroke-width="0.8"/>
<line x1="25.90" y1="478.32" x2="27.40" y2="478.32" stroke="#202020" stroke-width="0.8"/>
<line x1="25.90" y1="474.15" x2="27.40" y2="474.15" stroke="#202020" stroke-width="0.8"/>
<line x1="25.90" y1="469.98" x2="27.40" y2="469.98" stroke="#202020" stroke-width="0.8"/>
<line x1="25.90" y1="465.80" x2="27.40" y2="465.80" stroke="#202020" stroke-width="0.8"/>
<line x1="25.90" y1="461.62" x2="27.40" y2="461.62" stroke="#202020" stroke-width="0.8"/>
<line x1="25.90" y1="457.45" x2="27.40" y2="457.45" stroke="#202020" stroke-width="0.8"/>
<line x1="25.90" y1="453.27" x2="27.40" y2="453.27" stroke="#202020" stroke-width="0.8"/>
<line x1="25.90" y1="449.10" x2="27.40" y2="449.10" stroke="#202020" stroke-width="0.8"/>
<line x1="25.90" y1="444.93" x2="27.40" y2="444.93" stroke="#202020" stroke-width="0.8"/>
<line x1="25.90" y1="440.75" x2="27.40" y2="440.75" stroke="#202020" stroke-width="0.8"/>
<line x1="25.90" y1="436.57" x2="27.40" y2="436.57" stroke="#202020" stroke-width="0.8"/>
<line x1="25.90" y1="432.40" x2="27.40" y2="432.40" stroke="#202020" stroke-width="0.8"/>
<line x1="25.90" y1="428.23" x2="27.40" y2="428.23" stroke="#202020" stroke-width="0.8"/>
<line x1="25.90" y1="424.05" x2="27.40" y2="424.05" stroke="#202020" stroke-width="0.8"/>
<line x1="25.90" y1="419.88" x2="27.40" y2="419.88" stroke="#202020" stroke-width="0.8"/>
<line x1="25.90" y1="415.70" x2="27.40" y2="415.70" stroke="#202020" stroke-width="0.8"/>
<line x1="25.90" y1="411.52" x2="27.40" y2="411.52" stroke="#202020" stroke-width="0.8"/>
<text x="23.20" y="485.29" font-size="7.8" text-anchor="end" fill="#262626" stroke="#262626" stroke-width="0.2">0</text>
<text x="23.20" y="476.94" font-size="7.8" text-anchor="end" fill="#262626" stroke="#262626" stroke-width="0.2">100</text>
<text x="23.20" y="468.59" font-size="7.8" text-anchor="end" fill="#262626" stroke="#262626" stroke-width="0.2">200</text>
<text x="23.20" y="460.24" font-size="7.8" text-anchor="end" fill="#262626" stroke="#262626" stroke-width="0.2">300</text>
<text x="23.20" y="451.89" font-size="7.8" text-anchor="end" fill="#262626" stroke="#262626" stroke-width="0.2">400</text>
<text x="23.20" y="443.54" font-size="7.8" text-anchor="end" fill="#262626" stroke="#262626" stroke-width="0.2">500</text>
<text x="23.20" y="435.19" font-size="7.8" text-anchor="end" fill="#262626" stroke="#262626" stroke-width="0.2">600</text>
<text x="23.20" y="426.84" font-size="7.8" text-anchor="end" fill="#262626" stroke="#262626" stroke-width="0.2">700</text>
<text x="23.20" y="418.49" font-size="7.8" text-anchor="end" fill="#262626" stroke="#262626" stroke-width="0.2">800</text>
<line x1="25.20" y1="482.50" x2="676.50" y2="482.50" stroke="#909090" stroke-width="1.2"/>
<line x1="40.50" y1="482.50" x2="669.60" y2="482.50" stroke="#5a5ac0" stroke-width="1.3"/>
<line x1="40.50" y1="482.50" x2="40.50" y2="484.50" stroke="#202020" stroke-width="0.9"/>
<line x1="66.97" y1="482.50" x2="66.97" y2="484.50" stroke="#202020" stroke-width="0.9"/>
<line x1="93.45" y1="482.50" x2="93.45" y2="484.50" stroke="#202020" stroke-width="0.9"/>
<line x1="119.92" y1="482.50" x2="119.92" y2="484.50" stroke="#202020" stroke-width="0.9"/>
<line x1="146.40" y1="482.50" x2="146.40" y2="484.50" stroke="#202020" stroke-width="0.9"/>
<line x1="172.88" y1="482.50" x2="172.88" y2="484.50" stroke="#202020" stroke-width="0.9"/>
<line x1="199.35" y1="482.50" x2="199.35" y2="484.50" stroke="#202020" stroke-width="0.9"/>
<line x1="225.82" y1="482.50" x2="225.82" y2="484.50" stroke="#202020" stroke-width="0.9"/>
<line x1="252.30" y1="482.50" x2="252.30" y2="484.50" stroke="#202020" stroke-width="0.9"/>
<line x1="278.77" y1="482.50" x2="278.77" y2="484.50" stroke="#202020" stroke-width="0.9"/>
<line x1="305.25" y1="482.50" x2="305.25" y2="484.50" stroke="#202020" stroke-width="0.9"/>
<line x1="331.72" y1="482.50" x2="331.72" y2="484.50" stroke="#202020" stroke-width="0.9"/>
<line x1="358.20" y1="482.50" x2="358.20" y2="484.50" stroke="#202020" stroke-width="0.9"/>
<line x1="384.67" y1="482.50" x2="384.67" y2="484.50" stroke="#202020" stroke-width="0.9"/>
<line x1="411.15" y1="482.50" x2="411.15" y2="484.50" stroke="#202020" stroke-width="0.9"/>
<line x1="437.62" y1="482.50" x2="437.62" y2="484.50" stroke="#202020" stroke-width="0.9"/>
<line x1="464.10" y1="482.50" x2="464.10" y2="484.50" stroke="#202020" stroke-width="0.9"/>
<line x1="490.57" y1="482.50" x2="490.57" y2="484.50" stroke="#202020" stroke-width="0.9"/>
<line x1="517.05" y1="482.50" x2="517.05" y2="484.50" stroke="#202020" stroke-width="0.9"/>
<line x1="543.52" y1="482.50" x2="543.52" y2="484.50" stroke="#202020" stroke-width="0.9"/>
<line x1="570.00" y1="482.50" x2="570.00" y2="484.50" stroke="#202020" stroke-width="0.9"/>
<line x1="596.48" y1="482.50" x2="596.48" y2="484.50" stroke="#202020" stroke-width="0.9"/>
<line x1="622.95" y1="482.50" x2="622.95" y2="484.50" stroke="#202020" stroke-width="0.9"/>
<line x1="649.42" y1="482.50" x2="649.42" y2="484.50" stroke="#202020" stroke-width="0.9"/>
<line x1="675.90" y1="482.50" x2="675.90" y2="484.50" stroke="#202020" stroke-width="0.9"/>
<text x="40.50" y="492.00" font-size="7.0" text-anchor="middle" fill="#262626" stroke="#262626" stroke-width="0.2">0</text>
<text x="93.45" y="492.00" font-size="7.0" text-anchor="middle" fill="#262626" stroke="#262626" stroke-width="0.2">100</text>
<text x="146.40" y="492.00" font-size="7.0" text-anchor="middle" fill="#262626" stroke="#262626" stroke-width="0.2">200</text>
<text x="199.35" y="492.00" font-size="7.0" text-anchor="middle" fill="#262626" stroke="#262626" stroke-width="0.2">300</text>
<text x="252.30" y="492.00" font-size="7.0" text-anchor="middle" fill="#262626" stroke="#262626" stroke-width="0.2">400</text>
<text x="305.25" y="492.00" font-size="7.0" text-anchor="middle" fill="#262626" stroke="#262626" stroke-width="0.2">500</text>
<text x="358.20" y="492.00" font-size="7.0" text-anchor="middle" fill="#262626" stroke="#262626" stroke-width="0.2">600</text>
<text x="411.15" y="492.00" font-size="7.0" text-anchor="middle" fill="#262626" stroke="#262626" stroke-width="0.2">700</text>
<text x="464.10" y="492.00" font-size="7.0" text-anchor="middle" fill="#262626" stroke="#262626" stroke-width="0.2">800</text>
<text x="517.05" y="492.00" font-size="7.0" text-anchor="middle" fill="#262626" stroke="#262626" stroke-width="0.2">900</text>
<text x="570.00" y="492.00" font-size="7.0" text-anchor="middle" fill="#262626" stroke="#262626" stroke-width="0.2">1000</text>
<text x="622.95" y="492.00" font-size="7.0" text-anchor="middle" fill="#262626" stroke="#262626" stroke-width="0.2">1100</text>
<text x="675.90" y="492.00" font-size="7.0" text-anchor="middle" fill="#262626" stroke="#262626" stroke-width="0.2">1200</text>
<line x1="133.20" y1="408.20" x2="133.20" y2="482.50" stroke="#ef9898" stroke-width="1.4"/>
<line x1="169.60" y1="408.20" x2="169.60" y2="482.50" stroke="#5f955f" stroke-width="1.2"/>
<line x1="187.00" y1="408.20" x2="187.00" y2="482.50" stroke="#ef9898" stroke-width="1.4"/>
<line x1="230.20" y1="408.20" x2="230.20" y2="482.50" stroke="#5f955f" stroke-width="1.2"/>
<line x1="239.20" y1="408.20" x2="239.20" y2="482.50" stroke="#ef9898" stroke-width="1.4"/>
<line x1="290.50" y1="408.20" x2="290.50" y2="482.50" stroke="#5f955f" stroke-width="1.2"/>
<line x1="298.80" y1="408.20" x2="298.80" y2="482.50" stroke="#ef9898" stroke-width="1.4"/>
<line x1="329.10" y1="408.20" x2="329.10" y2="482.50" stroke="#ef9898" stroke-width="1.4"/>
<line x1="358.10" y1="408.20" x2="358.10" y2="482.50" stroke="#a9c6a9" stroke-width="1.2"/>
<line x1="366.50" y1="408.20" x2="366.50" y2="482.50" stroke="#ef9898" stroke-width="1.4"/>
<line x1="427.90" y1="408.20" x2="427.90" y2="482.50" stroke="#ef9898" stroke-width="1.4"/>
<line x1="489.40" y1="408.20" x2="489.40" y2="482.50" stroke="#ef9898" stroke-width="1.4"/>
<text x="159.90" y="422.85" font-size="7.4" text-anchor="start" fill="#2e9a2e" textLength="7.60" lengthAdjust="spacingAndGlyphs" stroke="#2e9a2e" stroke-width="0.22">b1</text>
<text x="219.50" y="422.85" font-size="7.4" text-anchor="start" fill="#2e9a2e" textLength="7.50" lengthAdjust="spacingAndGlyphs" stroke="#2e9a2e" stroke-width="0.22">b2</text>
<text x="280.80" y="422.85" font-size="7.4" text-anchor="start" fill="#2e9a2e" textLength="7.50" lengthAdjust="spacingAndGlyphs" stroke="#2e9a2e" stroke-width="0.22">b3</text>
<text x="347.90" y="422.85" font-size="7.4" text-anchor="start" fill="#2e9a2e" textLength="7.50" lengthAdjust="spacingAndGlyphs" stroke="#2e9a2e" stroke-width="0.22">b4</text>
<text x="124.00" y="415.05" font-size="7.4" text-anchor="start" fill="#e82020" textLength="6.50" lengthAdjust="spacingAndGlyphs" stroke="#e82020" stroke-width="0.22">y1</text>
<text x="177.40" y="415.05" font-size="7.4" text-anchor="start" fill="#e82020" textLength="8.00" lengthAdjust="spacingAndGlyphs" stroke="#e82020" stroke-width="0.22">y2</text>
<text x="230.20" y="415.05" font-size="7.4" text-anchor="start" fill="#e82020" textLength="7.40" lengthAdjust="spacingAndGlyphs" stroke="#e82020" stroke-width="0.22">y3</text>
<text x="290.40" y="415.05" font-size="7.4" text-anchor="start" fill="#e82020" textLength="6.80" lengthAdjust="spacingAndGlyphs" stroke="#e82020" stroke-width="0.22">y4</text>
<text x="319.90" y="415.05" font-size="7.4" text-anchor="start" fill="#e82020" textLength="7.60" lengthAdjust="spacingAndGlyphs" stroke="#e82020" stroke-width="0.22">y5</text>
<text x="357.80" y="415.05" font-size="7.4" text-anchor="start" fill="#e82020" textLength="7.10" lengthAdjust="spacingAndGlyphs" stroke="#e82020" stroke-width="0.22">y6</text>
<text x="417.70" y="415.05" font-size="7.4" text-anchor="start" fill="#e82020" textLength="7.00" lengthAdjust="spacingAndGlyphs" stroke="#e82020" stroke-width="0.22">y7</text>
<text x="479.00" y="415.05" font-size="7.4" text-anchor="start" fill="#e82020" textLength="7.50" lengthAdjust="spacingAndGlyphs" stroke="#e82020" stroke-width="0.22">y8</text>
<line x1="98.50" y1="468.80" x2="98.50" y2="482.50" stroke="#2a2af8" stroke-width="1.0"/>
<line x1="100.50" y1="430.50" x2="100.50" y2="482.50" stroke="#2a2af8" stroke-width="1.0"/>
<line x1="100.50" y1="454.40" x2="100.50" y2="482.50" stroke="#2a2af8" stroke-width="1.0"/>
<line x1="101.50" y1="450.90" x2="101.50" y2="482.50" stroke="#2a2af8" stroke-width="1.0"/>
<line x1="103.50" y1="415.40" x2="103.50" y2="482.50" stroke="#2a2af8" stroke-width="1.0"/>
<line x1="104.50" y1="477.60" x2="104.50" y2="482.50" stroke="#2a2af8" stroke-width="1.0"/>
<line x1="109.50" y1="476.80" x2="109.50" y2="482.50" stroke="#2a2af8" stroke-width="1.0"/>
<line x1="111.50" y1="463.20" x2="111.50" y2="482.50" stroke="#2a2af8" stroke-width="1.0"/>
<line x1="114.50" y1="476.00" x2="114.50" y2="482.50" stroke="#2a2af8" stroke-width="1.0"/>
<line x1="115.50" y1="473.60" x2="115.50" y2="482.50" stroke="#2a2af8" stroke-width="1.0"/>
<line x1="116.50" y1="446.80" x2="116.50" y2="482.50" stroke="#2a2af8" stroke-width="1.0"/>
<line x1="123.50" y1="472.00" x2="123.50" y2="482.50" stroke="#2a2af8" stroke-width="1.0"/>
<line x1="124.50" y1="472.00" x2="124.50" y2="482.50" stroke="#2a2af8" stroke-width="1.0"/>
<line x1="126.50" y1="475.20" x2="126.50" y2="482.50" stroke="#2a2af8" stroke-width="1.0"/>
<line x1="128.50" y1="476.80" x2="128.50" y2="482.50" stroke="#2a2af8" stroke-width="1.0"/>
<line x1="132.50" y1="455.70" x2="132.50" y2="482.50" stroke="#2a2af8" stroke-width="1.0"/>
<line x1="135.50" y1="475.20" x2="135.50" y2="482.50" stroke="#2a2af8" stroke-width="1.0"/>
<line x1="142.50" y1="477.60" x2="142.50" y2="482.50" stroke="#2a2af8" stroke-width="1.0"/>
<line x1="154.50" y1="472.80" x2="154.50" y2="482.50" stroke="#2a2af8" stroke-width="1.0"/>
<line x1="159.50" y1="476.00" x2="159.50" y2="482.50" stroke="#2a2af8" stroke-width="1.0"/>
<line x1="160.50" y1="476.00" x2="160.50" y2="482.50" stroke="#2a2af8" stroke-width="1.0"/>
<line x1="161.50" y1="476.00" x2="161.50" y2="482.50" stroke="#2a2af8" stroke-width="1.0"/>
<line x1="169.50" y1="464.30" x2="169.50" y2="482.50" stroke="#2a2af8" stroke-width="1.0"/>
<line x1="170.50" y1="477.00" x2="170.50" y2="482.50" stroke="#2a2af8" stroke-width="1.0"/>
<line x1="176.50" y1="471.20" x2="176.50" y2="482.50" stroke="#2a2af8" stroke-width="1.0"/>
<line x1="178.50" y1="468.50" x2="178.50" y2="482.50" stroke="#2a2af8" stroke-width="1.0"/>
<line x1="181.50" y1="476.30" x2="181.50" y2="482.50" stroke="#2a2af8" stroke-width="1.0"/>
<line x1="185.50" y1="476.80" x2="185.50" y2="482.50" stroke="#2a2af8" stroke-width="1.0"/>
<line x1="186.50" y1="476.80" x2="186.50" y2="482.50" stroke="#2a2af8" stroke-width="1.0"/>
<line x1="194.50" y1="465.00" x2="194.50" y2="482.50" stroke="#2a2af8" stroke-width="1.0"/>
<line x1="199.50" y1="474.40" x2="199.50" y2="482.50" stroke="#2a2af8" stroke-width="1.0"/>
<line x1="201.50" y1="477.60" x2="201.50" y2="482.50" stroke="#2a2af8" stroke-width="1.0"/>
<line x1="205.50" y1="478.40" x2="205.50" y2="482.50" stroke="#2a2af8" stroke-width="1.0"/>
<line x1="206.50" y1="478.40" x2="206.50" y2="482.50" stroke="#2a2af8" stroke-width="1.0"/>
<line x1="207.50" y1="478.40" x2="207.50" y2="482.50" stroke="#2a2af8" stroke-width="1.0"/>
<line x1="209.50" y1="476.80" x2="209.50" y2="482.50" stroke="#2a2af8" stroke-width="1.0"/>
<line x1="213.50" y1="476.80" x2="213.50" y2="482.50" stroke="#2a2af8" stroke-width="1.0"/>
<line x1="219.50" y1="477.60" x2="219.50" y2="482.50" stroke="#2a2af8" stroke-width="1.0"/>
<line x1="221.50" y1="477.60" x2="221.50" y2="482.50" stroke="#2a2af8" stroke-width="1.0"/>
<line x1="222.50" y1="477.60" x2="222.50" y2="482.50" stroke="#2a2af8" stroke-width="1.0"/>
<line x1="224.50" y1="476.50" x2="224.50" y2="482.50" stroke="#2a2af8" stroke-width="1.0"/>
<line x1="229.50" y1="472.00" x2="229.50" y2="482.50" stroke="#2a2af8" stroke-width="1.0"/>
<line x1="237.50" y1="477.60" x2="237.50" y2="482.50" stroke="#2a2af8" stroke-width="1.0"/>
<line x1="238.50" y1="476.00" x2="238.50" y2="482.50" stroke="#2a2af8" stroke-width="1.0"/>
<line x1="238.50" y1="465.60" x2="238.50" y2="482.50" stroke="#2a2af8" stroke-width="1.0"/>
<line x1="240.50" y1="478.40" x2="240.50" y2="482.50" stroke="#2a2af8" stroke-width="1.0"/>
<line x1="245.50" y1="478.40" x2="245.50" y2="482.50" stroke="#2a2af8" stroke-width="1.0"/>
<line x1="250.50" y1="478.40" x2="250.50" y2="482.50" stroke="#2a2af8" stroke-width="1.0"/>
<line x1="252.50" y1="477.50" x2="252.50" y2="482.50" stroke="#2a2af8" stroke-width="1.0"/>
<line x1="253.50" y1="477.00" x2="253.50" y2="482.50" stroke="#2a2af8" stroke-width="1.0"/>
<line x1="254.50" y1="477.00" x2="254.50" y2="482.50" stroke="#2a2af8" stroke-width="1.0"/>
<line x1="258.50" y1="476.00" x2="258.50" y2="482.50" stroke="#2a2af8" stroke-width="1.0"/>
<line x1="260.50" y1="468.50" x2="260.50" y2="482.50" stroke="#2a2af8" stroke-width="1.0"/>
<line x1="261.50" y1="472.80" x2="261.50" y2="482.50" stroke="#2a2af8" stroke-width="1.0"/>
<line x1="267.50" y1="475.20" x2="267.50" y2="482.50" stroke="#2a2af8" stroke-width="1.0"/>
<line x1="275.50" y1="475.20" x2="275.50" y2="482.50" stroke="#2a2af8" stroke-width="1.0"/>
<line x1="278.50" y1="477.00" x2="278.50" y2="482.50" stroke="#2a2af8" stroke-width="1.0"/>
<line x1="280.50" y1="477.00" x2="280.50" y2="482.50" stroke="#2a2af8" stroke-width="1.0"/>
<line x1="282.50" y1="477.00" x2="282.50" y2="482.50" stroke="#2a2af8" stroke-width="1.0"/>
<line x1="283.50" y1="476.00" x2="283.50" y2="482.50" stroke="#2a2af8" stroke-width="1.0"/>
<line x1="284.50" y1="475.00" x2="284.50" y2="482.50" stroke="#2a2af8" stroke-width="1.0"/>
<line x1="289.50" y1="468.00" x2="289.50" y2="482.50" stroke="#2a2af8" stroke-width="1.0"/>
<line x1="296.50" y1="478.40" x2="296.50" y2="482.50" stroke="#2a2af8" stroke-width="1.0"/>
<line x1="298.50" y1="464.80" x2="298.50" y2="482.50" stroke="#2a2af8" stroke-width="1.0"/>
<line x1="306.50" y1="477.60" x2="306.50" y2="482.50" stroke="#2a2af8" stroke-width="1.0"/>
<line x1="311.50" y1="478.00" x2="311.50" y2="482.50" stroke="#2a2af8" stroke-width="1.0"/>
<line x1="314.50" y1="473.90" x2="314.50" y2="482.50" stroke="#2a2af8" stroke-width="1.0"/>
<line x1="319.50" y1="477.60" x2="319.50" y2="482.50" stroke="#2a2af8" stroke-width="1.0"/>
<line x1="321.50" y1="471.70" x2="321.50" y2="482.50" stroke="#2a2af8" stroke-width="1.0"/>
<line x1="325.50" y1="477.60" x2="325.50" y2="482.50" stroke="#2a2af8" stroke-width="1.0"/>
<line x1="327.50" y1="477.60" x2="327.50" y2="482.50" stroke="#2a2af8" stroke-width="1.0"/>
<line x1="328.50" y1="465.90" x2="328.50" y2="482.50" stroke="#2a2af8" stroke-width="1.0"/>
<line x1="331.50" y1="478.40" x2="331.50" y2="482.50" stroke="#2a2af8" stroke-width="1.0"/>
<line x1="336.50" y1="479.00" x2="336.50" y2="482.50" stroke="#2a2af8" stroke-width="1.0"/>
<line x1="343.50" y1="477.60" x2="343.50" y2="482.50" stroke="#2a2af8" stroke-width="1.0"/>
<line x1="345.50" y1="477.60" x2="345.50" y2="482.50" stroke="#2a2af8" stroke-width="1.0"/>
<line x1="347.50" y1="477.60" x2="347.50" y2="482.50" stroke="#2a2af8" stroke-width="1.0"/>
<line x1="348.50" y1="477.60" x2="348.50" y2="482.50" stroke="#2a2af8" stroke-width="1.0"/>
<line x1="349.50" y1="477.60" x2="349.50" y2="482.50" stroke="#2a2af8" stroke-width="1.0"/>
<line x1="351.50" y1="477.60" x2="351.50" y2="482.50" stroke="#2a2af8" stroke-width="1.0"/>
<line x1="357.50" y1="460.80" x2="357.50" y2="482.50" stroke="#2a2af8" stroke-width="1.0"/>
<line x1="358.50" y1="478.40" x2="358.50" y2="482.50" stroke="#2a2af8" stroke-width="1.0"/>
<line x1="362.50" y1="478.40" x2="362.50" y2="482.50" stroke="#2a2af8" stroke-width="1.0"/>
<line x1="364.50" y1="478.40" x2="364.50" y2="482.50" stroke="#2a2af8" stroke-width="1.0"/>
<line x1="366.50" y1="462.70" x2="366.50" y2="482.50" stroke="#2a2af8" stroke-width="1.0"/>
<line x1="372.50" y1="478.00" x2="372.50" y2="482.50" stroke="#2a2af8" stroke-width="1.0"/>
<line x1="375.50" y1="471.70" x2="375.50" y2="482.50" stroke="#2a2af8" stroke-width="1.0"/>
<line x1="379.50" y1="478.00" x2="379.50" y2="482.50" stroke="#2a2af8" stroke-width="1.0"/>
<line x1="388.50" y1="478.00" x2="388.50" y2="482.50" stroke="#2a2af8" stroke-width="1.0"/>
<line x1="390.50" y1="478.00" x2="390.50" y2="482.50" stroke="#2a2af8" stroke-width="1.0"/>
<line x1="412.50" y1="477.60" x2="412.50" y2="482.50" stroke="#2a2af8" stroke-width="1.0"/>
<line x1="418.50" y1="478.40" x2="418.50" y2="482.50" stroke="#2a2af8" stroke-width="1.0"/>
<line x1="420.50" y1="478.40" x2="420.50" y2="482.50" stroke="#2a2af8" stroke-width="1.0"/>
<line x1="422.50" y1="478.40" x2="422.50" y2="482.50" stroke="#2a2af8" stroke-width="1.0"/>
<line x1="424.50" y1="478.40" x2="424.50" y2="482.50" stroke="#2a2af8" stroke-width="1.0"/>
<line x1="426.50" y1="478.40" x2="426.50" y2="482.50" stroke="#2a2af8" stroke-width="1.0"/>
<line x1="427.50" y1="472.00" x2="427.50" y2="482.50" stroke="#2a2af8" stroke-width="1.0"/>
<line x1="434.50" y1="477.00" x2="434.50" y2="482.50" stroke="#2a2af8" stroke-width="1.0"/>
<line x1="435.50" y1="477.00" x2="435.50" y2="482.50" stroke="#2a2af8" stroke-width="1.0"/>
<line x1="446.50" y1="478.00" x2="446.50" y2="482.50" stroke="#2a2af8" stroke-width="1.0"/>
<line x1="488.50" y1="465.30" x2="488.50" y2="482.50" stroke="#2a2af8" stroke-width="1.0"/>
<line x1="523.50" y1="480.00" x2="523.50" y2="482.50" stroke="#2a2af8" stroke-width="1.0"/>
<line x1="524.50" y1="480.00" x2="524.50" y2="482.50" stroke="#2a2af8" stroke-width="1.0"/>
<line x1="544.50" y1="479.80" x2="544.50" y2="482.50" stroke="#2a2af8" stroke-width="1.0"/>
<line x1="599.50" y1="479.80" x2="599.50" y2="482.50" stroke="#2a2af8" stroke-width="1.0"/>
<line x1="630.50" y1="481.00" x2="630.50" y2="482.50" stroke="#2a2af8" stroke-width="1.0"/>
<line x1="653.50" y1="481.00" x2="653.50" y2="482.50" stroke="#2a2af8" stroke-width="1.0"/>
<line x1="664.50" y1="481.00" x2="664.50" y2="482.50" stroke="#2a2af8" stroke-width="1.0"/>
<text x="72.90" y="417.55" font-size="7.4" text-anchor="start" fill="#262626" textLength="21.60" lengthAdjust="spacingAndGlyphs" stroke="#262626" stroke-width="0.18">120.08</text>
<text x="106.50" y="423.55" font-size="7.4" text-anchor="start" fill="#262626" textLength="21.20" lengthAdjust="spacingAndGlyphs" stroke="#262626" stroke-width="0.18">114.11</text>
<text x="106.50" y="437.85" font-size="7.4" text-anchor="start" fill="#262626" textLength="21.50" lengthAdjust="spacingAndGlyphs" stroke="#262626" stroke-width="0.18">145.11</text>
<text x="122.20" y="453.55" font-size="7.4" text-anchor="start" fill="#262626" textLength="22.10" lengthAdjust="spacingAndGlyphs" stroke="#262626" stroke-width="0.18">175.12</text>
<text x="143.20" y="469.75" font-size="7.4" text-anchor="start" fill="#262626" textLength="22.80" lengthAdjust="spacingAndGlyphs" stroke="#262626" stroke-width="0.18">216.18</text>
<text x="158.00" y="462.25" font-size="7.4" text-anchor="start" fill="#262626" textLength="23.10" lengthAdjust="spacingAndGlyphs" stroke="#262626" stroke-width="0.18">244.18</text>
<text x="200.40" y="458.65" font-size="7.4" text-anchor="start" fill="#262626" textLength="22.60" lengthAdjust="spacingAndGlyphs" stroke="#262626" stroke-width="0.18">292.18</text>
<text x="202.60" y="473.75" font-size="7.4" text-anchor="start" fill="#262626" textLength="22.80" lengthAdjust="spacingAndGlyphs" stroke="#262626" stroke-width="0.18">328.12</text>
<text x="227.40" y="463.05" font-size="7.4" text-anchor="start" fill="#262626" textLength="22.40" lengthAdjust="spacingAndGlyphs" stroke="#262626" stroke-width="0.18">375.24</text>
<text x="260.50" y="462.25" font-size="7.4" text-anchor="start" fill="#262626" textLength="22.30" lengthAdjust="spacingAndGlyphs" stroke="#262626" stroke-width="0.18">471.30</text>
<text x="288.00" y="462.75" font-size="7.4" text-anchor="start" fill="#262626" textLength="22.30" lengthAdjust="spacingAndGlyphs" stroke="#262626" stroke-width="0.18">488.33</text>
<text x="318.00" y="463.35" font-size="7.4" text-anchor="start" fill="#262626" textLength="22.30" lengthAdjust="spacingAndGlyphs" stroke="#262626" stroke-width="0.18">545.33</text>
<text x="332.60" y="475.55" font-size="7.4" text-anchor="start" fill="#262626" textLength="22.30" lengthAdjust="spacingAndGlyphs" stroke="#262626" stroke-width="0.18">572.38</text>
<text x="346.30" y="458.65" font-size="7.4" text-anchor="start" fill="#262626" textLength="22.60" lengthAdjust="spacingAndGlyphs" stroke="#262626" stroke-width="0.18">599.37</text>
<text x="364.90" y="469.45" font-size="7.4" text-anchor="start" fill="#262626" textLength="22.40" lengthAdjust="spacingAndGlyphs" stroke="#262626" stroke-width="0.18">633.34</text>
<text x="416.40" y="469.15" font-size="7.4" text-anchor="start" fill="#262626" textLength="23.10" lengthAdjust="spacingAndGlyphs" stroke="#262626" stroke-width="0.18">731.40</text>
<text x="452.30" y="472.15" font-size="7.4" text-anchor="start" fill="#262626" textLength="22.80" lengthAdjust="spacingAndGlyphs" stroke="#262626" stroke-width="0.18">767.37</text>
<text x="477.40" y="463.05" font-size="7.4" text-anchor="start" fill="#262626" textLength="22.80" lengthAdjust="spacingAndGlyphs" stroke="#262626" stroke-width="0.18">846.43</text>
<text x="494.70" y="473.55" font-size="7.4" text-anchor="start" fill="#262626" textLength="22.20" lengthAdjust="spacingAndGlyphs" stroke="#262626" stroke-width="0.18">911.53</text>
<text x="533.20" y="476.85" font-size="7.4" text-anchor="start" fill="#262626" textLength="22.70" lengthAdjust="spacingAndGlyphs" stroke="#262626" stroke-width="0.18">951.44</text>
<text x="586.60" y="477.85" font-size="7.4" text-anchor="start" fill="#262626" textLength="26.40" lengthAdjust="spacingAndGlyphs" stroke="#262626" stroke-width="0.18">1055.53</text>
<line x1="96.50" y1="415.30" x2="100.00" y2="415.30" stroke="#333" stroke-width="0.95"/>
<line x1="103.80" y1="427.50" x2="104.50" y2="425.50" stroke="#333" stroke-width="0.95"/>
<line x1="116.60" y1="441.00" x2="116.60" y2="443.00" stroke="#333" stroke-width="0.95"/>
<line x1="196.00" y1="462.00" x2="199.00" y2="459.00" stroke="#333" stroke-width="0.95"/>
<line x1="285.50" y1="465.50" x2="287.00" y2="467.50" stroke="#333" stroke-width="0.95"/>
<line x1="448.30" y1="476.70" x2="451.00" y2="474.30" stroke="#333" stroke-width="0.95"/>
<line x1="518.50" y1="475.50" x2="520.50" y2="477.30" stroke="#333" stroke-width="0.95"/>
<text x="0" y="0" font-size="6.6" text-anchor="middle" fill="#262626" textLength="24.4" lengthAdjust="spacingAndGlyphs" stroke="#262626" stroke-width="0.15" transform="translate(6.86,445.70) rotate(-90)">Intensity</text>
<text x="352.00" y="500.50" font-size="7.6" text-anchor="middle" fill="#262626" stroke="#262626" stroke-width="0.15">m/z, Da</text>
</svg></body></html>
